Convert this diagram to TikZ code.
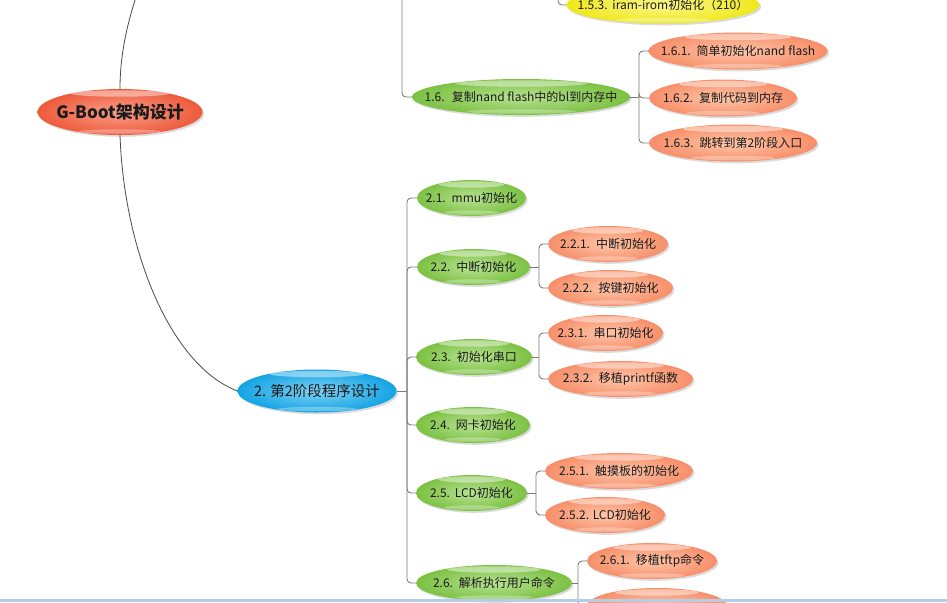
\documentclass[tikz,border=0pt]{standalone}
\usepackage{fontspec}
\setmainfont{Noto Sans CJK SC}
\usetikzlibrary{shapes.geometric,shadows,calc}
\definecolor{gout}{HTML}{7CC143}\definecolor{gin}{HTML}{B8E293}
\definecolor{sout}{HTML}{F78F69}\definecolor{sin}{HTML}{FDC6AA}
\definecolor{yout}{HTML}{EFE81C}\definecolor{yin}{HTML}{FBF78E}
\definecolor{rout}{HTML}{EE5A3C}\definecolor{rin}{HTML}{F9A08A}
\definecolor{bout}{HTML}{14A4E4}\definecolor{bin}{HTML}{7ED2F4}
\definecolor{linec}{HTML}{7A7A7A}
\definecolor{rootlc}{HTML}{4A4A4A}
\definecolor{band}{HTML}{B7CDE7}
\definecolor{txt}{HTML}{1A1A1A}
\tikzset{
  ellbase/.style={ellipse, inner sep=0pt, minimum height=36pt, text=txt,
    font=\fontsize{12}{14}\selectfont,
    drop shadow={shadow xshift=1.6pt, shadow yshift=-1.8pt, opacity=0.28},
    path picture={
      \fill[white,opacity=.45] let \p1=(path picture bounding box.north), \p2=(path picture bounding box.north east)
        in (\x1,\y1-4.5pt) ellipse ({0.6*(\x2-\x1)} and 3.2pt);
      \fill[white,opacity=.3] let \p1=(path picture bounding box.south), \p2=(path picture bounding box.south east)
        in (\x1,\y1+3.5pt) ellipse ({0.5*(\x2-\x1)} and 2.2pt);
    }},
  gnode/.style={ellbase, shade, inner color=gin, outer color=gout},
  snode/.style={ellbase, shade, inner color=sin, outer color=sout},
  ynode/.style={ellbase, shade, inner color=yin, outer color=yout},
  rnode/.style={ellbase, shade, inner color=rin, outer color=rout, font=\fontsize{17}{19}\bfseries},
  bnode/.style={ellbase, shade, inner color=bin, outer color=bout, font=\fontsize{14.5}{16}\selectfont},
  conn/.style={draw=linec, line width=0.9pt, rounded corners=4pt},
  rootconn/.style={draw=rootlc, line width=0.8pt},
}
\newcommand{\lbl}[1]{\makebox[0pt][c]{#1}}
\begin{document}
\begin{tikzpicture}[x=1pt,y=-1pt]
\useasboundingbox (0,0) rectangle (947,602);
\clip (0,0) rectangle (947,602);
\fill[white] (0,0) rectangle (947,602);

% nodes
\node[rnode, minimum width=165pt, minimum height=46pt] (root) at (120,112) {\lbl{G-Boot架构设计}};
\node[ynode, minimum width=193pt, minimum height=37pt] (n153) at (663,5) {\lbl{\raisebox{-1.5pt}{1.5.3.\hspace{0.4em}iram-irom初始化（210）}}};
\node[gnode, minimum width=218pt] (n16) at (521,97) {\lbl{1.6.\hspace{0.6em}复制nand flash中的bl到内存中}};
\node[snode, minimum width=179pt, minimum height=37pt] (n161) at (738,51) {\lbl{1.6.1.\hspace{0.5em}简单初始化nand flash}};
\node[snode, minimum width=148pt, minimum height=37pt] (n162) at (723,98) {\lbl{1.6.2.\hspace{0.5em}复制代码到内存}};
\node[snode, minimum width=168pt, minimum height=37pt] (n163) at (733,143) {\lbl{1.6.3.\hspace{0.5em}跳转到第2阶段入口}};

\node[bnode, minimum width=159pt, minimum height=43pt] (n2) at (317,391) {\lbl{2. 第2阶段程序设计}};

\node[gnode, minimum width=109pt] (n21) at (471.5,198) {\lbl{2.1.\hspace{0.5em}mmu初始化}};
\node[gnode, minimum width=113pt] (n22) at (473.5,267) {\lbl{2.2.\hspace{0.5em}中断初始化}};
\node[gnode, minimum width=116pt] (n23) at (474,357) {\lbl{2.3.\hspace{0.5em}初始化串口}};
\node[gnode, minimum width=114pt] (n24) at (473,425) {\lbl{2.4.\hspace{0.5em}网卡初始化}};
\node[gnode, minimum width=111pt] (n25) at (471.5,493) {\lbl{2.5.\hspace{0.4em}LCD初始化}};
\node[gnode, minimum width=156pt] (n26) at (494,583) {\lbl{2.6.\hspace{0.5em}解析执行用户命令}};

\node[snode, minimum width=120pt] (n221) at (608,244) {\lbl{2.2.1.\hspace{0.5em}中断初始化}};
\node[snode, minimum width=125pt] (n222) at (610.5,288) {\lbl{2.2.2.\hspace{0.5em}按键初始化}};
\node[snode, minimum width=115pt] (n231) at (605.5,333) {\lbl{2.3.1.\hspace{0.5em}串口初始化}};
\node[snode, minimum width=145pt] (n232) at (620.5,379) {\lbl{2.3.2.\hspace{0.5em}移植printf函数}};
\node[snode, minimum width=148pt] (n251) at (619,471) {\lbl{2.5.1.\hspace{0.5em}触摸板的初始化}};
\node[snode, minimum width=120pt] (n252) at (605,515) {\lbl{2.5.2.\hspace{0.3em}LCD初始化}};
\node[snode, minimum width=130pt] (n261) at (652,561) {\lbl{2.6.1.\hspace{0.5em}移植tftp命令}};
\node[snode, minimum width=140pt] (n262) at (657,606) {};

% bus coordinates
\coordinate (top1) at (136,-3);
\coordinate (b1) at (402,-5);
\coordinate (b15) at (558,-5);
\coordinate (b16) at (639,97);
\coordinate (b2) at (407,391);
\coordinate (b22) at (539,267);
\coordinate (b23) at (539,357);
\coordinate (b25) at (536,493);
\coordinate (b26) at (578,583);

% connectors
\draw[rootconn] (root.north) .. controls (120,55) and (127,25) .. (top1);
\draw[rootconn] (root.south) .. controls (124,250) and (170,365) .. (n2.west);

\draw[conn] (b1) |- (n16.west);
\draw[conn] (b15) |- (n153.west);

\draw[conn] (n16.east) -- (b16);
\draw[conn] (b16) |- (n161.west);
\draw[conn] (b16) |- (n162.west);
\draw[conn] (b16) |- (n163.west);

\draw[conn] (n2.east) -- (b2);
\foreach \c in {n21,n22,n23,n24,n25,n26} \draw[conn] (b2) |- (\c.west);

\draw[conn] (n22.east) -- (b22);
\draw[conn] (b22) |- (n221.west);
\draw[conn] (b22) |- (n222.west);
\draw[conn] (n23.east) -- (b23);
\draw[conn] (b23) |- (n231.west);
\draw[conn] (b23) |- (n232.west);
\draw[conn] (n25.east) -- (b25);
\draw[conn] (b25) |- (n251.west);
\draw[conn] (b25) |- (n252.west);
\draw[conn] (n26.east) -- (b26);
\draw[conn] (b26) |- (n261.west);
\draw[conn] (b26) |- (n262.west);

\fill[band] (0,599) rectangle (947,602);
\end{tikzpicture}
\end{document}
